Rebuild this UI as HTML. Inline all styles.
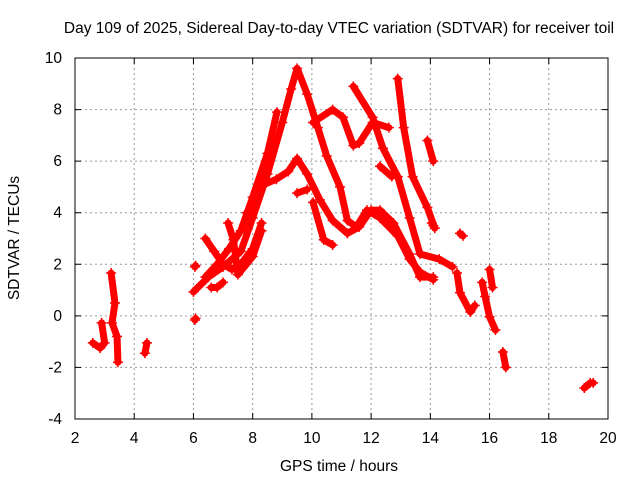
<!DOCTYPE html>
<html><head><meta charset="utf-8"><style>
body{margin:0;background:#fff}
svg{display:block;font-family:"Liberation Sans",sans-serif;font-size:15.5px}
</style></head><body>
<svg id="c" width="640" height="480">
<text x="339" y="33" text-anchor="middle">Day 109 of 2025, Sidereal Day-to-day VTEC variation (SDTVAR) for receiver toil</text>
<text x="339" y="471" text-anchor="middle">GPS time / hours</text>
<text transform="translate(19,238) rotate(-90)" text-anchor="middle">SDTVAR / TECUs</text>
<g id="grid"></g>
<g id="marks"></g>
<rect x="75" y="58" width="533" height="361" fill="none" stroke="#000" stroke-width="1"/>
</svg>
<script>
const xTicks=[2,4,6,8,10,12,14,16,18,20];
const yTicks=[-4,-2,0,2,4,6,8,10];
const track1=[[6.0,0.93],[6.5,1.5],[7.0,1.9],[7.6,2.5],[8.0,3.8],[8.5,5.5],[9.0,7.5],[9.3,8.8],[9.5,9.6],[9.84,8.6],[10.2,7.3],[10.5,6.2],[10.95,5.0],[11.2,3.7],[11.5,3.45],[11.86,4.1],[12.3,3.8],[12.9,3.1],[13.3,2.2],[13.65,1.7],[14.1,1.4]];
const track2=[[7.8,4.0],[8.4,5.1],[8.8,5.3],[9.2,5.6],[9.5,6.1],[9.84,5.5],[10.27,4.5],[10.7,3.7],[11.2,3.2],[11.6,3.45],[12.0,4.1],[12.3,4.1],[12.75,3.6],[13.3,2.4],[13.65,1.5],[14.1,1.5]];
const track3=[[8.82,7.9],[8.5,6.3],[8.0,4.6],[7.6,3.3],[7.2,2.6],[6.8,2.0],[6.4,1.5]];
const track4=[[10.04,7.5],[10.7,8.0],[11.05,7.7],[11.4,6.6],[11.6,6.7],[12.05,7.5],[12.6,7.3]];
const track5=[[11.4,8.9],[12.05,7.7],[12.4,6.5],[12.9,5.4],[13.3,3.8],[13.65,2.4],[14.3,2.2],[14.75,1.9]];
const track6=[[12.3,5.8],[12.7,5.4]];
const track7=[[12.9,9.2],[13.1,7.3],[13.4,5.4],[13.9,4.2],[14.15,3.4]];
const track8=[[13.9,6.8],[14.1,6.0]];
const track9=[[9.5,4.76],[9.84,4.9]];
const track10=[[10.04,4.4],[10.4,2.95],[10.7,2.75]];
const track11=[[6.4,3.0],[6.7,2.5],[7.0,2.0],[7.3,1.8],[7.6,2.0],[8.0,2.6],[8.3,3.6]];
const track12=[[7.17,3.6],[7.35,2.95],[7.5,1.6],[8.0,2.3],[8.3,3.3]];
const track13=[[6.6,1.1],[6.8,1.1],[7.0,1.3]];
const track14=[[3.22,1.66],[3.35,0.5],[3.25,-0.27],[3.42,-0.8],[3.45,-1.8]];
const track15=[[2.9,-0.27],[3.0,-1.05],[2.85,-1.25],[2.6,-1.05]];
const track16=[[4.43,-1.05],[4.36,-1.45]];
const track17=[[6.05,-0.16],[6.07,-0.1]];
const track18=[[6.05,1.9],[6.07,1.95]];
const track19=[[15.0,3.2],[15.1,3.1]];
const track20=[[14.9,1.66],[15.0,0.9],[15.35,0.15],[15.5,0.4]];
const track21=[[16.0,1.8],[16.1,1.1]];
const track22=[[15.75,1.3],[15.85,0.75],[16.0,-0.04],[16.2,-0.55]];
const track23=[[16.45,-1.4],[16.55,-2.0]];
const track24=[[19.2,-2.8],[19.4,-2.6],[19.5,-2.6]];
const track25=[[14.05,3.6],[14.1,3.5]];
const tracks=[track1,track2,track3,track4,track5,track6,track7,track8,track9,track10,track11,track12,track13,track14,track15,track16,track17,track18,track19,track20,track21,track22,track23,track24,track25];
const X0=75,X1=608,Y0=419,Y1=58;
function sx(v){return X0+(v-2)/18*(X1-X0);}
function sy(v){return Y0-(v+4)/14*(Y0-Y1);}
const NS="http://www.w3.org/2000/svg";
const grid=document.getElementById('grid'),marks=document.getElementById('marks'),svg=document.getElementById('c');
xTicks.forEach(t=>{
 const x=sx(t);
 if(t>2&&t<20){const l=document.createElementNS(NS,'line');l.setAttribute('x1',x);l.setAttribute('x2',x);l.setAttribute('y1',Y1);l.setAttribute('y2',Y0);l.setAttribute('stroke','#999');l.setAttribute('stroke-dasharray','2,3');
 
 
 grid.appendChild(l);}
 const tk=document.createElementNS(NS,'path');tk.setAttribute('d',`M${x},${Y0}v-6M${x},${Y1}v6`);tk.setAttribute('stroke','#000');
 
 
 grid.appendChild(tk);
 const tx=document.createElementNS(NS,'text');tx.setAttribute('x',x);tx.setAttribute('y',443);tx.setAttribute('text-anchor','middle');tx.textContent=t;
 
 
 svg.appendChild(tx);
});
yTicks.forEach(t=>{
 const y=sy(t);
 if(t>-4&&t<10){const l=document.createElementNS(NS,'line');l.setAttribute('x1',X0);l.setAttribute('x2',X1);l.setAttribute('y1',y);l.setAttribute('y2',y);l.setAttribute('stroke','#999');l.setAttribute('stroke-dasharray','2,3');
 
 
 grid.appendChild(l);}
 const tk=document.createElementNS(NS,'path');tk.setAttribute('d',`M${X0},${y}h6M${X1},${y}h-6`);tk.setAttribute('stroke','#000');
 
 
 grid.appendChild(tk);
 const tx=document.createElementNS(NS,'text');tx.setAttribute('x',62);tx.setAttribute('y',y+5);tx.setAttribute('text-anchor','end');tx.textContent=t;
 
 
 svg.appendChild(tx);
});
tracks.forEach(tr=>{
 const pl=document.createElementNS(NS,'polyline');
 pl.setAttribute('points',tr.map(p=>sx(p[0])+','+sy(p[1])).join(' '));
 pl.setAttribute('fill','none');pl.setAttribute('stroke','#f00');pl.setAttribute('stroke-width','7');pl.setAttribute('stroke-linejoin','round');pl.setAttribute('stroke-linecap','round');
 
 
 marks.appendChild(pl);
 tr.forEach(p=>{
  const m=document.createElementNS(NS,'path');
  const x=sx(p[0]),y=sy(p[1]);
  m.setAttribute('d',`M${x-5},${y}h10M${x},${y-5}v10`);m.setAttribute('stroke','#f00');m.setAttribute('stroke-width','1.5');
  
  
  marks.appendChild(m);
 });
});
</script>
</body></html>
